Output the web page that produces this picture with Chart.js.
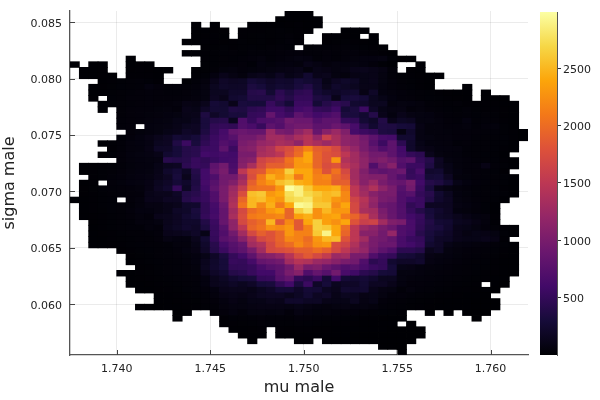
<!DOCTYPE html>
<html>
<head>
<meta charset="utf-8">
<script src="https://cdn.jsdelivr.net/npm/chart.js@4"></script>
<style>
  html, body { margin: 0; padding: 0; background: #fff; }
  #main { position: absolute; left: 0; top: 0; }
  #cbar { position: absolute; left: 530px; top: 0; }
</style>
</head>
<body>
<canvas id="main" width="600" height="400" style="width:600px;height:400px"></canvas>
<canvas id="cbar" width="70" height="400" style="width:70px;height:400px"></canvas>
<script>
const _ = null;
const xStart = 1.7375;
const yTop = 0.086;
const binSize = 0.0005;
const xTicks = [1.74, 1.745, 1.75, 1.755, 1.76];
const yTicks = [0.06, 0.065, 0.07, 0.075, 0.08, 0.085];
const cbarTicks = [500, 1000, 1500, 2000, 2500];
const maxCount = 2990;

// first filled column of every row, top row first
const firstCol = [23,22,13,13,13,12,14,12,6,0,1,1,3,2,2,2,3,3,5,5,5,6,5,3,4,3,5,1,1,2,1,1,1,0,1,1,1,2,2,2,2,2,5,6,6,7,5,6,6,7,9,9,7,11,11,16,17,18,19,33,35];

// bin counts, _ = empty bin
const counts = [
[3,4,3],
[2,3,5,4,3],
[4,_,3,_,_,_,3,4,5,6,8,10,5,3],
[5,6,8,7,_,9,10,12,14,18,14,10,5,_,_,_,3,4,3],
[4,8,9,6,_,12,14,15,14,16,24,10,_,_,8,9,7,4,_,3],
[3,6,10,12,8,10,15,14,18,12,16,30,10,_,_,8,14,16,12,8,4],
[8,14,16,12,16,20,18,22,28,20,_,14,22,20,24,26,20,16,10,5],
[4,6,10,18,20,24,18,30,28,26,34,40,38,30,28,36,30,35,38,30,22,12,5],
[4,_,_,_,_,_,_,_,10,16,22,20,30,40,50,30,38,50,70,60,30,40,30,40,50,60,60,70,20,8,4],
[3,_,4,6,_,_,6,8,5,_,_,_,_,_,14,18,24,26,35,20,60,45,60,60,50,110,80,50,70,60,70,60,40,15,6,_,_,3],
[4,6,8,_,_,8,10,8,6,4,_,_,8,14,25,45,55,40,45,55,70,80,90,110,50,110,90,70,80,120,130,110,80,30,_,8,4],
[5,6,8,5,_,10,12,10,6,_,_,_,10,20,60,120,80,50,110,130,100,170,100,130,250,120,130,70,50,90,100,110,70,30,15,10,8,6,3],
[6,10,15,25,30,20,10,_,_,14,30,50,120,200,170,180,280,240,200,230,220,300,260,230,100,170,210,180,100,120,70,40,25,15,10,5],
[5,8,14,20,25,30,60,40,25,30,30,40,70,150,210,190,200,340,300,220,260,240,320,380,250,130,220,180,150,110,110,60,40,30,20,12,6,_,_,_,3],
[6,10,16,25,30,35,40,35,30,30,35,45,70,150,150,220,220,400,420,260,450,350,450,480,280,220,190,230,240,90,200,60,50,40,30,25,18,12,8,6,4,_,3],
[8,_,20,25,35,35,40,35,35,35,40,50,70,170,120,250,270,380,380,380,480,400,500,500,350,320,120,300,320,280,150,100,60,40,35,25,20,15,12,8,6,_,5,4,3],
[5,15,25,30,35,40,35,40,50,90,80,130,280,250,120,320,300,300,520,400,280,550,550,280,400,480,420,250,230,150,150,50,70,60,50,30,25,18,25,12,10,12,8,6,3],
[6,_,25,35,40,40,45,50,40,120,100,200,270,260,370,350,450,480,580,580,480,600,650,500,480,580,280,330,560,200,100,80,80,40,50,35,30,20,18,30,15,12,10,8,4],
[25,35,40,45,50,60,70,110,120,350,200,260,320,320,500,520,850,620,550,800,700,600,650,720,330,320,250,400,120,60,120,80,70,60,40,30,25,30,20,25,15,8,5],
[30,35,40,50,60,70,100,100,140,320,400,420,150,700,520,680,700,750,950,900,900,720,800,800,500,480,270,210,380,120,180,160,70,70,50,35,30,60,25,30,25,10,5],
[30,35,_,60,70,80,110,150,170,320,480,500,480,720,650,520,800,720,900,950,950,800,800,900,800,640,400,250,360,350,300,280,90,50,50,40,40,50,30,40,45,15,6],
[35,45,55,70,100,120,200,170,350,500,620,850,900,850,850,1250,1000,950,1150,1300,870,1100,1250,1050,620,550,500,350,330,80,220,80,50,50,45,40,40,35,30,30,15,10,4],
[20,40,60,90,130,170,270,250,300,420,550,650,750,950,950,1050,1300,1300,1200,1350,1450,1200,1600,1350,1150,1100,950,800,650,620,250,250,80,70,50,50,40,40,30,25,25,20,10,4],
[6,15,30,50,60,80,150,170,370,550,320,470,560,720,650,1000,1050,1200,1250,1350,1300,1150,1450,1350,1250,1350,1150,1100,1000,750,550,800,450,220,100,60,55,50,30,35,25,25,20,15,6],
[12,30,50,55,90,190,200,300,400,430,550,560,800,550,1050,1100,1300,1400,1650,1750,1950,2150,1900,1850,1700,1350,1200,1000,850,700,800,600,220,120,90,60,55,50,30,25,25,20,12,5],
[8,20,35,55,70,80,110,250,300,400,430,600,580,620,600,1000,1000,1350,1400,1500,1800,2000,2400,1950,1800,1750,1500,1300,1100,950,950,800,620,500,450,130,70,50,45,30,25,20,15,6],
[35,50,60,70,80,420,400,420,520,480,540,600,620,1050,1100,1650,1750,1800,2050,2300,2400,1950,1800,2300,1400,1300,1150,1000,1050,950,750,800,500,400,170,70,50,40,30,25,20,12,5],
[5,8,12,18,30,45,55,60,100,150,170,450,520,500,800,950,650,1100,1350,1700,1900,1900,2000,2300,2300,1950,1750,1800,1500,1350,1150,700,950,1100,700,550,550,360,160,100,50,40,40,90,30,15,5],
[6,10,15,25,35,50,60,70,110,220,280,180,400,600,850,1000,700,1500,1800,1850,2200,2250,2650,2400,2400,2100,1800,2050,1700,1300,1050,850,800,850,900,500,650,230,250,110,60,40,35,30,20,8],
[10,18,30,40,55,65,80,120,170,310,130,370,600,680,950,950,1250,1750,2100,2450,2300,2500,2100,2400,2150,2200,1950,1800,1300,1100,1050,1050,850,700,520,560,280,300,170,50,45,35,30,25,15,6],
[6,10,_,35,45,60,70,90,150,200,280,220,350,620,750,950,1050,1350,1900,2150,2300,2550,2650,2450,2400,2150,2150,1900,1900,1350,1100,1250,1000,900,850,1000,600,400,350,250,100,60,40,30,25,15,6],
[8,14,20,30,35,40,50,90,170,230,500,180,380,580,800,1000,1250,1550,2000,2050,2050,2300,2980,2880,2600,2400,2400,2450,2100,1500,1250,1400,1150,1000,750,950,550,330,120,80,50,40,30,25,20,12,5],
[8,12,16,22,30,35,40,110,130,130,190,380,420,530,700,1000,1300,1750,2550,2600,2300,2400,2750,2880,2700,2600,2500,2550,2200,1500,1300,1100,1000,1000,700,750,500,420,250,150,60,45,30,25,20,15,5],
[3,6,10,15,20,_,35,50,120,120,170,170,400,470,530,700,1000,1350,1950,2500,2550,2400,2300,2700,2750,2800,2550,2500,2300,2200,1650,1450,1200,1000,950,700,600,550,380,230,170,70,50,35,25,15,6],
[6,10,15,20,25,30,50,80,80,110,130,220,230,480,620,900,1400,2050,2500,2200,2450,2100,2400,2950,2900,2600,2600,2200,2400,1700,1400,1150,900,850,700,480,550,170,170,160,80,60,40,20,6],
[5,10,14,20,25,40,60,60,80,110,190,210,320,480,600,850,1300,1700,2000,2100,2300,2400,1950,2650,2800,2250,2500,2300,2300,1700,1350,1300,1000,850,720,520,400,300,230,170,60,50,35,20,6],
[5,8,12,18,25,35,50,40,120,130,170,250,300,500,620,850,1350,1750,2100,2150,2150,2200,1950,2350,2450,2250,2350,2400,2100,1950,1700,1350,1050,870,720,600,520,320,210,180,130,90,60,50,10],
[8,12,18,25,30,50,50,70,130,170,220,220,380,550,870,1150,1700,1900,2000,2500,1850,2200,1850,2400,2650,2350,2250,2400,1800,1600,1650,1300,1050,1000,650,500,380,270,250,150,130,90,50,12],
[6,10,15,22,30,30,50,40,140,180,230,200,340,520,750,1150,1500,1950,2050,2250,2200,2300,1850,2150,2650,2600,2400,2000,1500,1250,1150,1000,900,700,650,480,350,320,230,120,100,70,40,25,10,4],
[5,8,12,18,22,25,30,40,120,130,150,200,100,520,700,950,1300,1700,1900,1800,1950,2300,2150,2150,2600,2900,2400,1950,1500,1100,1100,950,1200,700,620,420,320,250,200,120,80,100,90,70,15,5],
[5,6,10,14,18,22,25,35,80,60,60,130,260,500,760,850,1100,1400,1700,1800,1950,2200,2150,2000,2300,2500,2550,1800,1500,1300,1000,950,850,650,540,500,300,200,180,120,100,100,120,90,12],
[4,5,8,12,15,20,22,25,30,50,50,100,220,420,620,750,850,1300,1400,1700,1900,2000,2200,2050,2250,2300,1750,1650,1400,1150,1000,900,900,650,600,520,250,200,100,70,60,50,40,30,15,6],
[8,12,18,20,25,30,40,60,90,200,400,550,720,800,1000,1300,1700,1750,1800,1900,1900,2000,1900,1700,1500,1300,1200,950,800,700,450,450,400,130,180,70,50,40,35,30,20,10,4],
[8,14,18,22,28,35,45,60,100,200,330,500,600,800,1050,1100,1200,1450,1700,1850,1700,1550,1250,1300,1000,1000,700,550,500,300,280,220,90,70,60,45,35,30,25,15,8,3],
[6,10,15,20,25,30,40,60,140,220,300,520,500,620,850,900,950,1300,1450,1400,1250,1200,1100,1000,950,700,450,500,250,200,200,230,80,60,50,40,30,25,20,12,6,3],
[8,12,16,22,28,35,50,150,230,300,480,490,520,650,750,800,950,1250,1000,1050,900,800,700,750,650,550,500,300,100,90,60,50,45,40,30,25,20,15,10,5,3],
[3,5,10,14,18,24,28,35,45,120,200,250,400,430,520,600,600,800,1000,1100,700,850,750,950,650,580,450,400,300,280,70,70,55,45,40,35,28,22,18,12,8,5,2],
[4,8,10,14,18,22,28,35,60,130,180,250,300,320,500,520,750,850,500,450,550,280,600,280,250,280,230,150,150,70,50,45,40,32,28,22,18,14,10,6,3],
[3,5,8,10,14,18,24,30,60,130,150,190,150,200,300,320,480,600,330,550,200,300,150,200,200,260,170,170,120,60,40,38,32,28,22,18,14,10,_,4,2],
[3,5,8,10,14,20,26,40,60,120,130,130,110,150,200,280,280,200,280,270,160,130,240,230,250,120,80,70,30,50,32,26,20,16,12,10,7,4,2],
[4,6,9,14,20,30,50,90,110,90,120,160,170,170,130,180,260,170,200,110,150,140,90,100,70,40,40,28,22,16,12,10,7,5,3,2],
[3,5,7,10,14,22,35,60,90,70,100,100,130,120,220,220,180,180,110,100,100,150,80,100,40,30,22,18,14,10,8,6,5,3,2,2,1],
[1,1,2,3,5,8,10,16,25,50,70,70,80,90,90,90,80,100,80,60,50,70,80,60,70,50,30,25,18,14,10,8,6,5,4,3,2,2,1],
[2,3,_,_,25,40,60,40,70,70,60,70,40,80,60,45,50,40,35,40,30,25,20,15,10,_,_,2,_,2,_,2,1,1],
[1,_,_,_,_,12,20,22,28,35,30,30,22,40,35,30,24,22,18,15,12,10,8,6,3,_,_,_,_,_,_,_,1],
[5,10,14,18,22,20,18,15,25,20,16,14,12,10,8,6,5,4,3,_,1],
[4,6,8,10,_,10,8,12,10,8,8,6,5,5,4,3,3,2,2,1,1],
[2,4,4,_,4,4,6,4,4,4,3,3,2,2,2,2,1,1,1,1],
[1,_,_,_,_,2,2,_,2,2,2,1,1,1,1,1,1,1],
[1,1,1],
[1]
];

// inferno colormap stops
const infernoStops = ["#000004","#160b39","#420a68","#6a176e","#932667","#bc3754","#dd513a","#f37819","#fca50a","#f6d746","#fcffa4"];

function hexToRgb(hex) {
  return [1, 3, 5].map((i) => parseInt(hex.slice(i, i + 2), 16));
}

function inferno(v) {
  const t = Math.min(v / maxCount, 1) * (infernoStops.length - 1);
  const i = Math.min(Math.floor(t), infernoStops.length - 2);
  const a = hexToRgb(infernoStops[i]);
  const b = hexToRgb(infernoStops[i + 1]);
  const f = t - i;
  const c = a.map((p, k) => Math.round(p + (b[k] - p) * f));
  return `rgb(${c[0]},${c[1]},${c[2]})`;
}

const cells = [];
counts.forEach((row, j) => {
  row.forEach((v, k) => {
    if (v === null) return;
    const col = firstCol[j] + k;
    cells.push({
      x: xStart + (col + 0.5) * binSize,
      y: [yTop - (j + 1) * binSize, yTop - j * binSize],
      v: v,
    });
  });
});

const font = { family: "'DejaVu Sans'", size: 11 };
const titleFont = { family: "'DejaVu Sans'", size: 16 };

// Plots-style ticks pointing into the plot
const innerTicks = {
  id: "innerTicks",
  afterDatasetsDraw(chart) {
    const { ctx, chartArea, scales } = chart;
    ctx.save();
    ctx.strokeStyle = "#444";
    ctx.lineWidth = 1;
    ctx.beginPath();
    xTicks.forEach((t) => {
      const px = Math.round(scales.x.getPixelForValue(t)) + 0.5;
      ctx.moveTo(px, chartArea.bottom);
      ctx.lineTo(px, chartArea.bottom - 5);
    });
    yTicks.forEach((t) => {
      const py = Math.round(scales.y.getPixelForValue(t)) + 0.5;
      ctx.moveTo(chartArea.left, py);
      ctx.lineTo(chartArea.left + 5, py);
    });
    ctx.stroke();
    ctx.restore();
  },
};

new Chart(document.getElementById("main").getContext("2d"), {
  type: "bar",
  data: {
    datasets: [
      {
        data: cells,
        backgroundColor: (c) => (c.raw ? inferno(c.raw.v) : "#000"),
        borderWidth: 0,
        inflateAmount: 0.4,
        barPercentage: 1,
        categoryPercentage: 1,
      },
    ],
  },
  plugins: [innerTicks],
  options: {
    responsive: false,
    animation: false,
    events: [],
    layout: { padding: { left: 0, top: 11, right: 72, bottom: 0 } },
    plugins: { legend: { display: false }, tooltip: { enabled: false } },
    scales: {
      x: {
        type: "linear",
        offset: false,
        min: 1.7375,
        max: 1.762,
        afterBuildTicks: (s) => { s.ticks = xTicks.map((v) => ({ value: v })); },
        afterFit: (s) => { s.height = 45; s.paddingLeft = 0; s.paddingRight = 0; },
        ticks: { font: font, color: "#222", padding: 8, maxRotation: 0, callback: (v) => v.toFixed(3) },
        grid: { offset: false, color: "rgba(0,0,0,0.08)", lineWidth: 1, drawTicks: false },
        border: { color: "#555", width: 1.3 },
        title: { display: true, text: "mu male", font: titleFont, color: "#222", padding: { top: 0, bottom: 3 } },
      },
      y: {
        type: "linear",
        min: 0.0555,
        max: 0.086,
        afterBuildTicks: (s) => { s.ticks = yTicks.map((v) => ({ value: v })); },
        afterFit: (s) => { s.width = 70; s.paddingTop = 0; s.paddingBottom = 0; },
        ticks: { font: font, color: "#222", padding: 8, labelOffset: 1.5, callback: (v) => v.toFixed(3) },
        grid: { color: "rgba(0,0,0,0.08)", lineWidth: 1, drawTicks: false },
        border: { color: "#555", width: 1.3 },
        title: { display: true, text: "sigma male", font: titleFont, color: "#222", padding: { top: 0, bottom: 3 } },
      },
    },
  },
});

// colorbar, one floating bar filled with the colormap
new Chart(document.getElementById("cbar").getContext("2d"), {
  type: "bar",
  data: {
    labels: [""],
    datasets: [
      {
        data: [[0, maxCount]],
        borderWidth: 0,
        barPercentage: 1,
        categoryPercentage: 1,
        backgroundColor: (c) => {
          const area = c.chart.chartArea;
          if (!area) return "#000";
          const g = c.chart.ctx.createLinearGradient(0, area.bottom, 0, area.top);
          infernoStops.forEach((col, i) => g.addColorStop(i / (infernoStops.length - 1), col));
          return g;
        },
      },
    ],
  },
  options: {
    responsive: false,
    animation: false,
    events: [],
    layout: { padding: { left: 10, top: 12, right: 0, bottom: 45 } },
    plugins: { legend: { display: false }, tooltip: { enabled: false } },
    scales: {
      x: { display: false },
      y: {
        position: "right",
        min: 0,
        max: maxCount,
        afterBuildTicks: (s) => { s.ticks = cbarTicks.map((v) => ({ value: v })); },
        afterFit: (s) => { s.width = 43; s.paddingTop = 0; s.paddingBottom = 0; },
        ticks: { font: font, color: "#222", padding: 2, labelOffset: 1.5, callback: (v) => String(v) },
        grid: { drawOnChartArea: false, color: "#333", tickLength: 4 },
        border: { color: "#555", width: 1 },
      },
    },
  },
});
</script>
</body>
</html>
